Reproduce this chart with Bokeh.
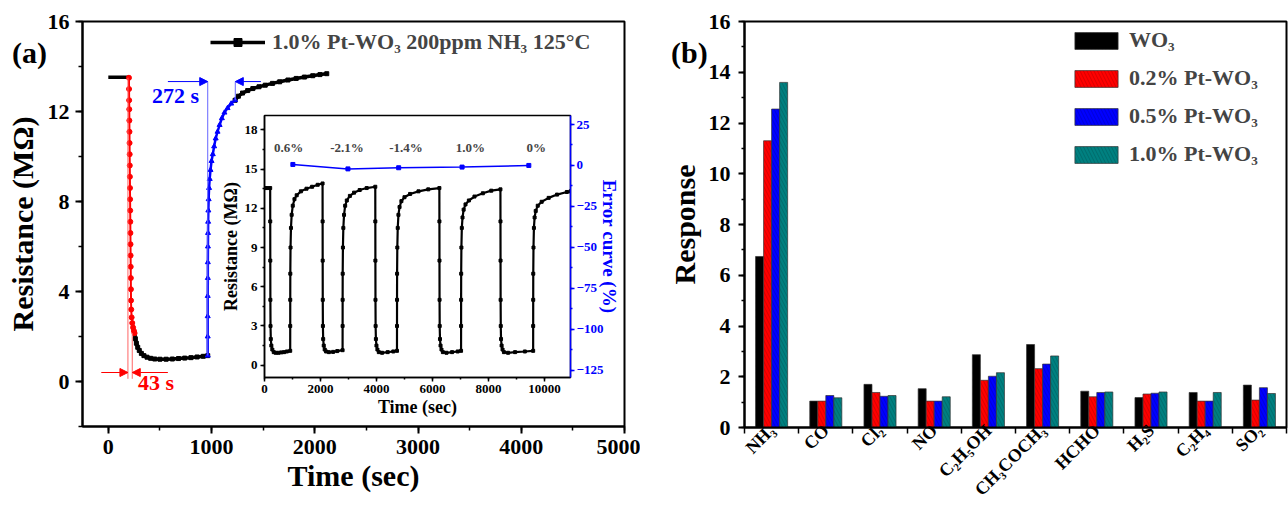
from bokeh.plotting import figure
from bokeh.layouts import row, column
from bokeh.models import (Range1d, LinearAxis, FixedTicker, SingleIntervalTicker,
                          Label, Legend, LegendItem, Arrow, NormalHead, Div)
from bokeh.embed import file_html
from bokeh.resources import INLINE

FONT = "Liberation Serif"

# ---------------- panel (a) data: 1.0% Pt-WO3, 200 ppm NH3, 125 C ----------------
base_t = [0, 50, 100, 150, 200]
base_r = [13.52, 13.52, 13.52, 13.52, 13.52]
resp_t = [200, 201, 202, 203, 204, 205, 206, 207, 208, 209, 210, 211, 212, 213, 214,
          215, 216, 217, 218, 219, 220, 222, 226, 232, 240, 248, 254]
resp_r = [13.5, 13.0, 12.5, 12.1, 11.6, 11.1, 10.6, 10.1, 9.6, 9.1, 8.6, 8.1, 7.6, 7.1, 6.6,
          6.1, 5.6, 5.1, 4.6, 4.1, 3.6, 3.2, 2.85, 2.6, 2.4, 2.25, 2.15]
dec_t = [254, 262, 272, 285, 300, 320, 345, 375, 410, 450, 500, 560, 620, 680, 740, 800,
         860, 920, 963]
dec_r = [2.15, 1.9, 1.7, 1.52, 1.38, 1.25, 1.15, 1.08, 1.03, 1.0, 0.99, 0.99, 1.0, 1.02,
         1.04, 1.06, 1.09, 1.12, 1.15]
rec_t = [963, 963, 963, 963, 964, 964, 965, 966, 967, 969, 972, 976, 982, 990, 1000, 1012,
         1025, 1040, 1058, 1078, 1100, 1125, 1155, 1190, 1228]
rec_r = [1.15, 2.0, 2.9, 3.8, 4.6, 5.3, 6.0, 6.6, 7.1, 7.6, 8.1, 8.6, 9.0, 9.4, 9.8, 10.1,
         10.45, 10.8, 11.1, 11.4, 11.7, 11.95, 12.15, 12.35, 12.5]
tail_t = [1228, 1260, 1300, 1350, 1400, 1460, 1520, 1590, 1660, 1740, 1820, 1900, 1980,
          2050, 2116]
tail_r = [12.5, 12.68, 12.82, 12.93, 13.02, 13.1, 13.17, 13.25, 13.32, 13.4, 13.47, 13.53,
          13.59, 13.64, 13.68]

# response / recovery time markers
resp_marks = [190, 232]          # 43 s
rec_marks = [963, 1230]          # 272 s

# ---------------- inset data: 5 cycles ----------------
inset_t = [0, 100, 203,
           205, 207, 210, 215, 225, 245, 280, 330, 400, 500, 600, 700, 800, 918,
           919, 920, 922, 930, 945, 970, 1010, 1070, 1150, 1300, 1500, 1700, 1900, 2074,
           2076, 2078, 2081, 2086, 2096, 2116, 2150, 2200, 2300, 2450, 2600, 2789,
           2790, 2791, 2793, 2801, 2816, 2841, 2881, 2940, 3050, 3200, 3400, 3650, 3957,
           3959, 3961, 3964, 3969, 3979, 3999, 4033, 4083, 4200, 4400, 4600, 4732,
           4733, 4734, 4736, 4744, 4759, 4784, 4824, 4890, 5000, 5200, 5500, 5850, 6246,
           6248, 6250, 6253, 6258, 6268, 6288, 6322, 6372, 6500, 6700, 6900, 7021,
           7022, 7023, 7025, 7033, 7048, 7073, 7113, 7180, 7300, 7500, 7800, 8100, 8427,
           8429, 8431, 8434, 8439, 8449, 8469, 8503, 8553, 8700, 8950, 9300, 9596,
           9597, 9598, 9600, 9608, 9623, 9648, 9688, 9760, 9900, 10150, 10450, 10800, 10930]
inset_r = [13.55, 13.55, 13.55,
           11.0, 8.0, 5.0, 3.0, 2.0, 1.5, 1.2, 1.0, 0.95, 0.95, 0.98, 1.0, 1.05, 1.1,
           3.0, 5.0, 7.0, 9.0, 10.5, 11.5, 12.2, 12.7, 13.0, 13.3, 13.5, 13.65, 13.8, 13.9,
           11.0, 8.0, 5.0, 3.0, 2.0, 1.5, 1.2, 1.05, 1.0, 1.02, 1.08, 1.15,
           3.0, 5.0, 7.0, 9.0, 10.5, 11.5, 12.2, 12.6, 12.95, 13.2, 13.4, 13.55, 13.65,
           11.0, 8.0, 5.0, 3.0, 2.0, 1.5, 1.2, 1.0, 0.95, 1.0, 1.05, 1.1,
           3.0, 5.0, 7.0, 9.0, 10.5, 11.5, 12.1, 12.55, 12.85, 13.1, 13.3, 13.45, 13.55,
           11.0, 8.0, 5.0, 3.0, 2.0, 1.5, 1.2, 1.0, 0.95, 1.0, 1.05, 1.1,
           3.0, 5.0, 7.0, 9.0, 10.5, 11.3, 11.9, 12.3, 12.6, 12.9, 13.15, 13.35, 13.45,
           11.0, 8.0, 5.0, 3.0, 2.0, 1.5, 1.2, 1.0, 0.95, 1.0, 1.05, 1.1,
           3.0, 5.0, 7.0, 9.0, 10.5, 11.3, 11.8, 12.2, 12.5, 12.8, 13.05, 13.25, 13.3]
err_t = [1013, 2980, 4792, 7057, 9441]
err_v = [0.6, -2.1, -1.4, -1.0, 0.0]
err_labels = ["0.6%", "-2.1%", "-1.4%", "1.0%", "0%"]
err_label_t = [858, 2944, 5054, 7355, 9703]

# ---------------- panel (b) data ----------------
gases = ["NH₃", "CO", "Cl₂", "NO", "C₂H₅OH", "CH₃COCH₃", "HCHO", "H₂S", "C₂H₄", "SO₂"]
series_names = ["WO₃", "0.2% Pt-WO₃", "0.5% Pt-WO₃", "1.0% Pt-WO₃"]
wo3 = [6.74, 1.04, 1.70, 1.53, 2.87, 3.27, 1.43, 1.18, 1.38, 1.67]
pt02 = [11.30, 1.04, 1.38, 1.04, 1.86, 2.32, 1.21, 1.32, 1.04, 1.08]
pt05 = [12.55, 1.26, 1.23, 1.04, 2.02, 2.50, 1.38, 1.35, 1.04, 1.57]
pt10 = [13.60, 1.17, 1.26, 1.21, 2.16, 2.82, 1.40, 1.40, 1.38, 1.34]
bar_colors = ["#000000", "#ff0000", "#0000ff", "#008080"]


def style_axis(ax, tick_size, label_size, color="black", tick_out=7, minor_out=4):
    ax.major_label_text_font = FONT
    ax.major_label_text_font_style = "bold"
    ax.major_label_text_font_size = tick_size
    ax.major_label_text_color = color
    ax.axis_label_text_font = FONT
    ax.axis_label_text_font_style = "bold"
    ax.axis_label_text_font_size = label_size
    ax.axis_label_text_color = color
    ax.axis_line_color = color
    ax.axis_line_width = 2
    ax.major_tick_line_color = color
    ax.minor_tick_line_color = color
    ax.major_tick_line_width = 2
    ax.minor_tick_line_width = 1.5
    ax.major_tick_in = 0
    ax.major_tick_out = tick_out
    ax.minor_tick_in = 0
    ax.minor_tick_out = minor_out


def tag_div(text, left, top):
    # panel tag such as "(a)", laid over the figures
    return Div(text=text, width=60, height=40,
               styles={"position": "absolute", "left": f"{left}px", "top": f"{top}px",
                       "z-index": "6", "font-family": FONT, "font-weight": "bold",
                       "font-size": "30px", "line-height": "40px", "color": "black"})


# ================= panel (a) =================
pa = figure(width=640, height=509, x_range=Range1d(-250, 5000), y_range=Range1d(-2, 16),
            output_backend="svg", toolbar_location=None, frame_align=False,
            min_border_left=82, min_border_right=16, min_border_top=21, min_border_bottom=83)
pa.xgrid.visible = False
pa.ygrid.visible = False
pa.outline_line_color = "black"
pa.outline_line_width = 2
pa.xaxis.ticker = SingleIntervalTicker(interval=1000, num_minor_ticks=2)
pa.yaxis.ticker = SingleIntervalTicker(interval=4, num_minor_ticks=2)
pa.xaxis.axis_label = "Time (sec)"
pa.yaxis.axis_label = "Resistance (MΩ)"
style_axis(pa.xaxis[0], "22px", "30px")
style_axis(pa.yaxis[0], "22px", "30px")
pa.xaxis.major_label_standoff = 6
pa.xaxis.axis_label_standoff = 2
pa.yaxis.major_label_standoff = 6
pa.yaxis.axis_label_standoff = 6

pa.line(base_t, base_r, line_color="black", line_width=3.5)
pa.line(dec_t, dec_r, line_color="black", line_width=3.5)
l_tail = pa.line(tail_t, tail_r, line_color="black", line_width=3.5)
s_tail = pa.scatter(tail_t, tail_r, marker="square", size=4, color="black")
pa.scatter(dec_t, dec_r, marker="square", size=4, color="black")
pa.line(resp_t, resp_r, line_color="#ff0000", line_width=2)
pa.scatter(resp_t, resp_r, marker="circle", size=5, color="#ff0000")
pa.line(rec_t, rec_r, line_color="#0000ff", line_width=2.5)
pa.scatter(rec_t, rec_r, marker="triangle", size=5, color="#0000ff")

# response-time guides (red)
pa.segment(x0=resp_marks, y0=[0.12, 0.12], x1=resp_marks, y1=[resp_r[0], resp_r[-1]],
           line_color="#ff6666", line_width=1)
pa.add_layout(Arrow(x_start=-68, y_start=0.4, x_end=resp_marks[0], y_end=0.4,
                    line_color="#ff0000", line_width=1,
                    end=NormalHead(size=8, fill_color="#ff0000", line_color="#ff0000")))
pa.add_layout(Arrow(x_start=577, y_start=0.4, x_end=resp_marks[1], y_end=0.4,
                    line_color="#ff0000", line_width=1,
                    end=NormalHead(size=8, fill_color="#ff0000", line_color="#ff0000")))
pa.add_layout(Label(x=287, y=-0.05, text="43 s", text_color="#ff0000", text_font=FONT,
                    text_font_style="bold", text_font_size="22px", text_baseline="middle"))
# recovery-time guides (blue)
pa.segment(x0=rec_marks, y0=[13.33, 13.33], x1=rec_marks, y1=[rec_r[0], rec_r[-1]],
           line_color="#6666ff", line_width=1)
pa.add_layout(Arrow(x_start=577, y_start=13.33, x_end=rec_marks[0], y_end=13.33,
                    line_color="#0000ff", line_width=1,
                    end=NormalHead(size=8, fill_color="#0000ff", line_color="#0000ff")))
pa.add_layout(Arrow(x_start=1478, y_start=13.33, x_end=rec_marks[1], y_end=13.33,
                    line_color="#0000ff", line_width=1,
                    end=NormalHead(size=8, fill_color="#0000ff", line_color="#0000ff")))
pa.add_layout(Label(x=879, y=12.7, text="272 s", text_color="#0000ff", text_font=FONT,
                    text_font_style="bold", text_font_size="22px", text_baseline="middle",
                    text_align="right"))

leg_a = Legend(items=[LegendItem(label="1.0% Pt-WO₃ 200ppm NH₃ 125°C",
                                 renderers=[l_tail, s_tail])],
               location=(128, 371), glyph_width=55, glyph_height=20, label_standoff=7,
               padding=0, margin=0, border_line_alpha=0, background_fill_alpha=0,
               label_text_font=FONT, label_text_font_style="bold",
               label_text_font_size="22px")
pa.add_layout(leg_a)

# ================= inset =================
ins = figure(frame_width=306, frame_height=262, x_range=Range1d(0, 10930),
             y_range=Range1d(-0.94, 19.1), output_backend="svg", toolbar_location=None,
             min_border_left=45, min_border_right=52, min_border_top=10, min_border_bottom=50,
             border_fill_alpha=0, frame_align=False,
             styles={"position": "absolute", "left": "217px", "top": "105px", "z-index": "5"})
ins.xgrid.visible = False
ins.ygrid.visible = False
ins.outline_line_color = "black"
ins.outline_line_width = 1.5
ins.extra_y_ranges = {"err": Range1d(-129.5, 30.5)}
ins.xaxis.ticker = SingleIntervalTicker(interval=2000, num_minor_ticks=2)
ins.yaxis.ticker = SingleIntervalTicker(interval=3, num_minor_ticks=2)
ins.xaxis.axis_label = "Time (sec)"
ins.yaxis.axis_label = "Resistance (MΩ)"
style_axis(ins.xaxis[0], "13px", "18px", tick_out=4, minor_out=2)
style_axis(ins.yaxis[0], "13px", "18px", tick_out=4, minor_out=2)
for ax in (ins.xaxis[0], ins.yaxis[0]):
    ax.axis_line_width = 1.5
    ax.major_tick_line_width = 1.5
    ax.major_label_standoff = 3
    ax.axis_label_standoff = 1
err_axis = LinearAxis(y_range_name="err", axis_label="Error curve (%)",
                      ticker=SingleIntervalTicker(interval=25, num_minor_ticks=2))
style_axis(err_axis, "13px", "19px", color="#0000ff", tick_out=4, minor_out=2)
err_axis.axis_line_width = 1.5
err_axis.major_tick_line_width = 1.5
err_axis.major_label_standoff = 2
err_axis.axis_label_standoff = -7
ins.add_layout(err_axis, "right")

ins.line(inset_t, inset_r, line_color="black", line_width=2.2)
ins.scatter(inset_t, inset_r, marker="square", size=3, color="black")
ins.line(err_t, err_v, y_range_name="err", line_color="#0000ff", line_width=1.5)
ins.scatter(err_t, err_v, y_range_name="err", marker="square", size=4, color="#0000ff")
for xt, lab in zip(err_label_t, err_labels):
    ins.add_layout(Label(x=xt, y=11.2, y_range_name="err", text=lab, text_font=FONT,
                         text_font_style="bold", text_font_size="13px",
                         text_align="center", text_baseline="middle"))

# ================= panel (b) =================
pb = figure(width=648, height=509, x_range=Range1d(0, 10), y_range=Range1d(0, 16),
            output_backend="svg", toolbar_location=None, frame_align=False,
            min_border_left=104, min_border_right=2, min_border_top=21, min_border_bottom=81)
pb.xgrid.visible = False
pb.ygrid.visible = False
pb.outline_line_color = "black"
pb.outline_line_width = 2
centers = [i + 0.5 for i in range(len(gases))]
pb.xaxis.ticker = FixedTicker(ticks=centers, minor_ticks=list(range(len(gases) + 1)))
pb.xaxis.major_label_overrides = {c: g for c, g in zip(centers, gases)}
pb.xaxis.major_label_orientation = 0.785
pb.yaxis.ticker = SingleIntervalTicker(interval=2, num_minor_ticks=2)
pb.yaxis.axis_label = "Response"
style_axis(pb.xaxis[0], "18px", "30px", tick_out=0, minor_out=6)
style_axis(pb.yaxis[0], "22px", "30px", tick_out=6, minor_out=3)
pb.xaxis.major_label_standoff = -6
pb.yaxis.major_label_standoff = 8
pb.yaxis.axis_label_standoff = 5

bw = 0.148
offsets = [-1.5 * bw, -0.5 * bw, 0.5 * bw, 1.5 * bw]
bar_items = []
for vals, col, off, name in zip([wo3, pt02, pt05, pt10], bar_colors, offsets, series_names):
    r = pb.vbar(x=[c + off for c in centers], top=vals, width=bw, fill_color=col,
                line_color="#333333", line_width=0.7,
                hatch_pattern="\\", hatch_color="#000000", hatch_alpha=0.25,
                hatch_scale=7, hatch_weight=0.6)
    bar_items.append(LegendItem(label=name, renderers=[r]))

leg_b = Legend(items=bar_items, location=(325, 260), glyph_width=54, glyph_height=21,
               label_height=21, label_standoff=6, spacing=12, padding=0, margin=0,
               border_line_alpha=0, background_fill_alpha=0,
               label_text_font=FONT, label_text_font_style="bold",
               label_text_font_size="22px")
pb.add_layout(leg_b)

tag_a = tag_div("(a)", 7, 28)
tag_b = tag_div("(b)", 666, 28)

layout = column(row(pa, pb), ins, tag_a, tag_b, styles={"position": "relative"})
open("out.html", "w").write(file_html(layout, INLINE))
